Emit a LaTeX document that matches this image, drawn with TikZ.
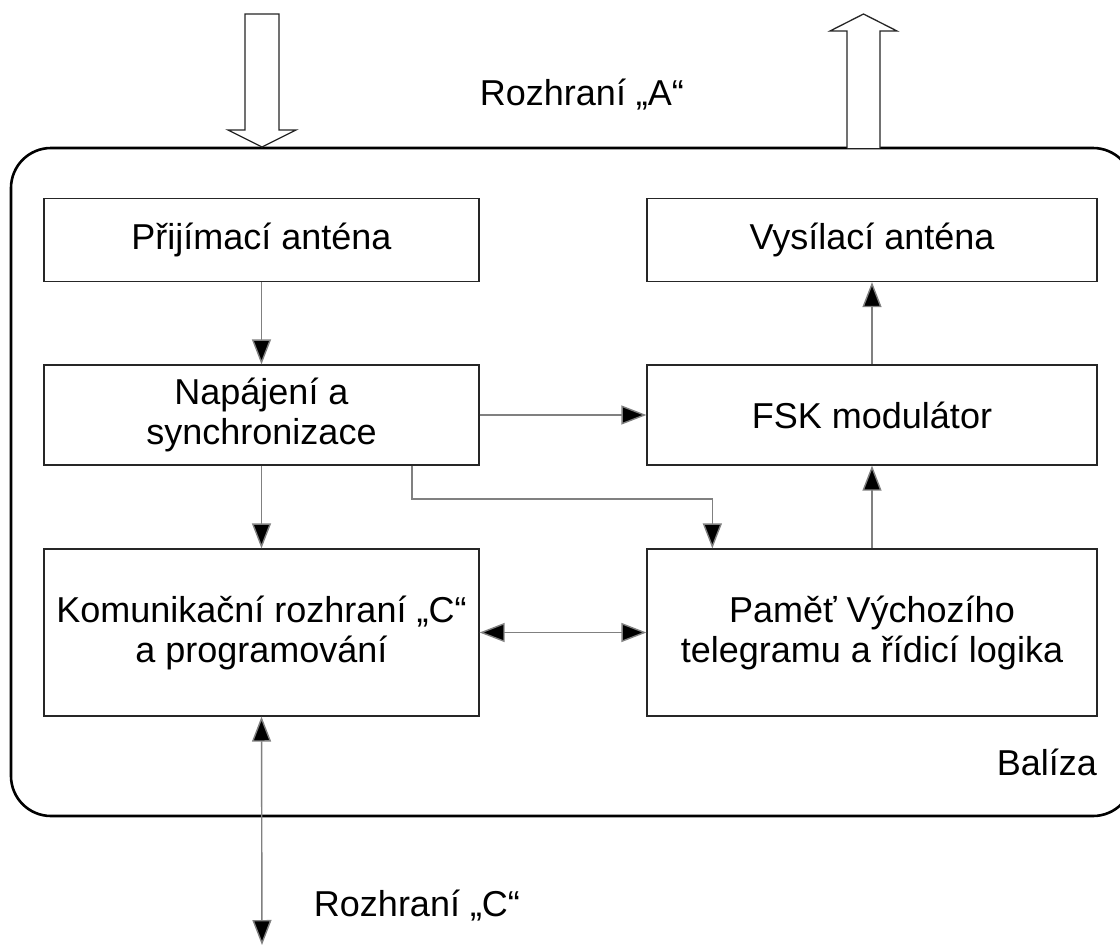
\documentclass[tikz,border=0pt]{standalone}
\usepackage{fontspec}
\setmainfont{Liberation Sans}
\usetikzlibrary{arrows.meta}
\tikzset{
  tip/.tip={Triangle[length=25pt,width=19pt,fill=black]},
  blk/.style={draw=black!85, line width=1.3pt, align=center, inner sep=0pt,
    font=\fontsize{36}{40}\selectfont},
  lblk/.style={blk, minimum width=435pt},
  rblk/.style={blk, minimum width=450pt},
  conn/.style={draw=black!50, line width=1.4pt, -tip},
  biconn/.style={draw=black!50, line width=1.4pt, tip-tip},
  frame/.style={draw=black, line width=2.6pt, rounded corners=40pt},
  bigarrow/.style={draw=black!85, line width=1.3pt, fill=white},
  lbl/.style={font=\fontsize{36}{40}\selectfont, inner sep=0pt}
}
\begin{document}
\begin{tikzpicture}[x=1pt,y=-1pt]
\clip (0,0) rectangle (1120,945);
\fill[white] (0,0) rectangle (1120,945);
% outer frame
\draw[frame] (11,148) rectangle (1133,816);
% big interface arrows
\draw[bigarrow] (245,14) -- (279,14) -- (279,130) -- (296,130) -- (262,147) -- (228,130) -- (245,130) -- cycle;
\draw[bigarrow] (847,148) -- (847,31) -- (830,31) -- (863.5,14) -- (897,31) -- (880,31) -- (880,148);
% blocks
\node[lblk, minimum height=83pt] (pa) at (261.5,240) {Přijímací anténa};
\node[rblk, minimum height=83pt] (va) at (872,240) {Vysílací anténa};
\node[lblk, minimum height=100pt] (ns) at (261.5,415) {Napájení a\\synchronizace};
\node[rblk, minimum height=100pt] (fsk) at (872,415) {FSK modulátor};
\node[lblk, minimum height=167pt] (kr) at (261.5,632.5) {Komunikační rozhraní „C“\\a programování};
\node[rblk, minimum height=167pt] (pm) at (872,632.5) {Paměť Výchozího\\telegramu a řídicí logika};
% labels
\node[lbl] (la) at (582,95) {Rozhraní „A“};
\node[lbl] (lc) at (417,906) {Rozhraní „C“};
\node[lbl, anchor=east] (lb) at (1097,762) {Balíza};
% connectors
\coordinate (e1) at (412,499);
\coordinate (cend) at (262,945);
\draw[conn] (pa) -- (ns);
\draw[conn] (ns) -- (kr);
\draw[conn] (ns) -- (fsk);
\draw[conn] (fsk) -- (va);
\draw[conn] (pm) -- (fsk);
\draw[conn] (ns.south -| e1) -- (e1) -| ([xshift=66pt]pm.north west);
\draw[biconn] (kr) -- (pm);
\draw[biconn] (kr.south) -- (cend);
\end{tikzpicture}
\end{document}
